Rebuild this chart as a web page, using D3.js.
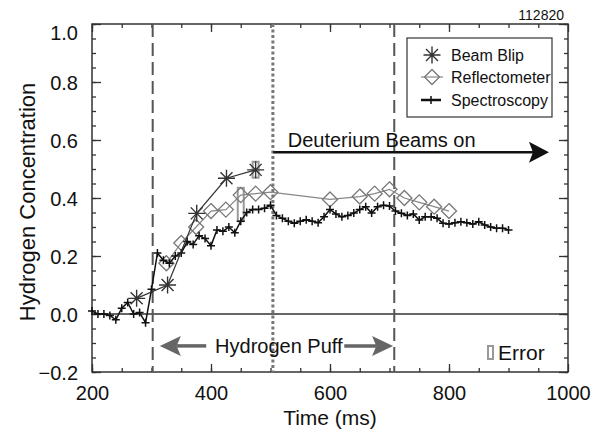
<!DOCTYPE html>
<html>
<head>
<meta charset="utf-8">
<script src="https://cdn.jsdelivr.net/npm/d3@7"></script>
<style>
  body { margin: 0; background: #fff; }
  text { font-family: "Liberation Sans", Arial, Helvetica, sans-serif; fill: #111; }
</style>
</head>
<body>
<div id="graph"></div>
<script>
// --- data ---
var specT = [200, 210, 220, 230, 240, 250, 260, 270, 280, 290,
             300, 310, 320, 330, 340, 350, 360, 370, 380, 390,
             400, 410, 420, 430, 440, 450, 460, 470, 480, 490,
             500, 510, 520, 530, 540, 550, 560, 570, 580, 590,
             600, 610, 620, 630, 640, 650, 660, 670, 680, 690,
             700, 710, 720, 730, 740, 750, 760, 770, 780, 790,
             800, 810, 820, 830, 840, 850, 860, 870, 880, 890, 900];
var specV = [0.01, 0.0, 0.0, -0.005, -0.02, 0.02, 0.04, 0.0, 0.005, -0.03,
             0.085, 0.21, 0.185, 0.175, 0.20, 0.21, 0.25, 0.24, 0.27, 0.26,
             0.235, 0.29, 0.285, 0.30, 0.28, 0.32, 0.35, 0.36, 0.36, 0.365,
             0.375, 0.34, 0.33, 0.32, 0.313, 0.32, 0.325, 0.32, 0.315, 0.335,
             0.36, 0.345, 0.335, 0.34, 0.348, 0.36, 0.37, 0.348, 0.37, 0.375,
             0.372, 0.355, 0.347, 0.34, 0.345, 0.324, 0.335, 0.335, 0.33, 0.313,
             0.31, 0.315, 0.318, 0.315, 0.31, 0.318, 0.307, 0.30, 0.296, 0.296, 0.29];

var blipT = [275, 327, 376, 426, 475];
var blipV = [0.054, 0.10, 0.347, 0.468, 0.497];

var reflT = [325, 350, 375, 400, 425, 450, 475, 500, 600, 650, 675, 700, 725, 750, 775, 800];
var reflV = [0.175, 0.245, 0.30, 0.355, 0.36, 0.41, 0.415, 0.42, 0.395, 0.405, 0.415, 0.43, 0.40, 0.385, 0.37, 0.355];

// gray error boxes (reflectometer at 450, beam blip at 475)
var errT = [450, 475];
var errLo = [0.32, 0.47];
var errHi = [0.435, 0.525];

var xMajor = [200, 400, 600, 800, 1000];
var yMajor = [-0.2, 0.0, 0.2, 0.4, 0.6, 0.8, 1.0];

var puffStart = 302, puffEnd = 708, beamsOn = 504;

var legendNames = ["Beam Blip", "Reflectometer", "Spectroscopy"];

// --- drawing ---
var w = 605, h = 435;
var vis = d3.select('#graph').append('svg')
    .attr('width', w)
    .attr('height', h);

vis.append('rect').attr('width', w).attr('height', h).attr('fill', '#fff');

var x = d3.scaleLinear().domain([200, 1000]).range([92, 568]);
var y = d3.scaleLinear().domain([-0.2, 1.0]).range([372, 24]);

var xMinor = d3.range(200, 1000, 50);
var yMinor = d3.range(-0.2, 1.0001, 0.05);

function styleAxis(g) {
  g.select('.domain').remove();
  g.selectAll('line').attr('stroke', '#333').attr('stroke-width', 1.3);
}

// minor ticks on all four sides
vis.append('g').attr('transform', 'translate(0,372)')
    .call(d3.axisBottom(x).tickValues(xMinor).tickSize(-4).tickFormat('')).call(styleAxis);
vis.append('g').attr('transform', 'translate(0,24)')
    .call(d3.axisTop(x).tickValues(xMinor).tickSize(-4).tickFormat('')).call(styleAxis);
vis.append('g').attr('transform', 'translate(92,0)')
    .call(d3.axisLeft(y).tickValues(yMinor).tickSize(-4).tickFormat('')).call(styleAxis);
vis.append('g').attr('transform', 'translate(568,0)')
    .call(d3.axisRight(y).tickValues(yMinor).tickSize(-4).tickFormat('')).call(styleAxis);

// major ticks
var xAx = vis.append('g').attr('transform', 'translate(0,372)')
    .call(d3.axisBottom(x).tickValues(xMajor).tickSize(-8).tickPadding(14).tickFormat(d3.format('d')))
    .call(styleAxis);
vis.append('g').attr('transform', 'translate(0,24)')
    .call(d3.axisTop(x).tickValues(xMajor).tickSize(-8).tickFormat('')).call(styleAxis);
var yAx = vis.append('g').attr('transform', 'translate(92,0)')
    .call(d3.axisLeft(y).tickValues(yMajor).tickSize(-9).tickPadding(14).tickFormat(d3.format('.1f')))
    .call(styleAxis);
vis.append('g').attr('transform', 'translate(568,0)')
    .call(d3.axisRight(y).tickValues(yMajor).tickSize(-9).tickFormat('')).call(styleAxis);

xAx.selectAll('text').attr('font-size', '20px').attr('fill', '#111')
    .attr('font-family', '"Liberation Sans", Arial, sans-serif');
yAx.selectAll('text').attr('font-size', '20px').attr('fill', '#111')
    .attr('font-family', '"Liberation Sans", Arial, sans-serif')
    .attr('dy', function(d) { return d === 1.0 ? '0.75em' : '0.35em'; });

// frame
vis.append('rect')
    .attr('x', 92).attr('y', 24).attr('width', 476).attr('height', 348)
    .attr('fill', 'none').attr('stroke', '#333').attr('stroke-width', 1.5);

// zero line
vis.append('line')
    .attr('x1', x(200)).attr('x2', x(1000))
    .attr('y1', y(0)).attr('y2', y(0))
    .attr('stroke', '#333').attr('stroke-width', 1.5);

// puff boundaries (dashed) and beams-on (dotted)
vis.selectAll('.vdash')
    .data([puffStart, puffEnd])
    .enter()
    .append('line')
    .attr('x1', function(d) { return x(d); })
    .attr('x2', function(d) { return x(d); })
    .attr('y1', y(1.0)).attr('y2', y(-0.2))
    .attr('stroke', '#555').attr('stroke-width', 2)
    .attr('stroke-dasharray', '13,6');

vis.append('line')
    .attr('x1', x(beamsOn)).attr('x2', x(beamsOn))
    .attr('y1', y(1.0)).attr('y2', y(-0.2))
    .attr('stroke', '#777').attr('stroke-width', 3)
    .attr('stroke-dasharray', '3,2.5');

// error boxes
vis.selectAll('.err')
    .data(errT)
    .enter()
    .append('rect')
    .attr('x', function(d) { return x(d) - 3; })
    .attr('y', function(d, i) { return y(errHi[i]); })
    .attr('width', 6)
    .attr('height', function(d, i) { return y(errLo[i]) - y(errHi[i]); })
    .attr('fill', 'none').attr('stroke', '#999').attr('stroke-width', 2);

var lineGen = d3.line()
    .x(function(d) { return x(d[0]); })
    .y(function(d) { return y(d[1]); });

var spec = specT.map(function(t, i) { return [t, specV[i]]; });
var blip = blipT.map(function(t, i) { return [t, blipV[i]]; });
var refl = reflT.map(function(t, i) { return [t, reflV[i]]; });

var plusPath = 'M-4,0H4M0,-4V4';
var diamondPath = 'M0,-7.5L7.5,0L0,7.5L-7.5,0Z';
var astPath = 'M-8.5,0H8.5M0,-8.5V8.5M-6,-6L6,6M-6,6L6,-6';

// reflectometer
vis.append('path').datum(refl).attr('d', lineGen)
    .attr('fill', 'none').attr('stroke', '#888').attr('stroke-width', 1.2);
vis.selectAll('.refl')
    .data(refl)
    .enter()
    .append('path')
    .attr('transform', function(d) { return 'translate(' + x(d[0]) + ',' + y(d[1]) + ')'; })
    .attr('d', diamondPath)
    .attr('fill', 'none').attr('stroke', '#777').attr('stroke-width', 1.3);

// spectroscopy
vis.append('path').datum(spec).attr('d', lineGen)
    .attr('fill', 'none').attr('stroke', '#111').attr('stroke-width', 1.5);
vis.selectAll('.spec')
    .data(spec)
    .enter()
    .append('path')
    .attr('transform', function(d) { return 'translate(' + x(d[0]) + ',' + y(d[1]) + ')'; })
    .attr('d', plusPath)
    .attr('stroke', '#111').attr('stroke-width', 1.5);

// beam blip
vis.append('path').datum(blip).attr('d', lineGen)
    .attr('fill', 'none').attr('stroke', '#333').attr('stroke-width', 1.2);
vis.selectAll('.blip')
    .data(blip)
    .enter()
    .append('path')
    .attr('transform', function(d) { return 'translate(' + x(d[0]) + ',' + y(d[1]) + ')'; })
    .attr('d', astPath)
    .attr('stroke', '#333').attr('stroke-width', 1.4);

// arrows
function arrow(x1, x2, yy, color, lw, hl, hw) {
  var dir = x2 > x1 ? 1 : -1;
  vis.append('line')
      .attr('x1', x1).attr('x2', x2 - dir * hl * 0.8)
      .attr('y1', yy).attr('y2', yy)
      .attr('stroke', color).attr('stroke-width', lw);
  vis.append('path')
      .attr('d', 'M' + x2 + ',' + yy + 'L' + (x2 - dir * hl) + ',' + (yy - hw) +
                 'L' + (x2 - dir * hl * 0.8) + ',' + yy +
                 'L' + (x2 - dir * hl) + ',' + (yy + hw) + 'Z')
      .attr('fill', color);
}

arrow(x(505), x(968), y(0.558), '#111', 2.5, 20, 10.5);
arrow(x(392), x(314), y(-0.11), '#666', 3.5, 21, 10);
arrow(x(624), x(706), y(-0.11), '#666', 3.5, 21, 10);

vis.append('text')
    .attr('x', x(529)).attr('y', 147)
    .attr('font-size', '20px')
    .text('Deuterium Beams on');

vis.append('text')
    .attr('x', x(514)).attr('y', y(-0.11) + 7)
    .attr('text-anchor', 'middle')
    .attr('font-size', '20px')
    .text('Hydrogen Puff');

// error key
vis.append('rect')
    .attr('x', 488).attr('y', 346).attr('width', 5).attr('height', 13)
    .attr('fill', '#fff').attr('stroke', '#999').attr('stroke-width', 2);
vis.append('text')
    .attr('x', 498).attr('y', 360)
    .attr('font-size', '21px')
    .text('Error');

// shot number
vis.append('text')
    .attr('x', 564).attr('y', 20)
    .attr('text-anchor', 'end')
    .attr('font-size', '14px')
    .text('112820');

// legend
vis.append('rect')
    .attr('x', 407).attr('y', 38).attr('width', 145).attr('height', 79)
    .attr('fill', '#fff').attr('stroke', '#333').attr('stroke-width', 1.2);

var legY = [55, 77, 100];
vis.append('path')
    .attr('transform', 'translate(432,' + legY[0] + ')')
    .attr('d', astPath).attr('stroke', '#333').attr('stroke-width', 1.4);
vis.append('line')
    .attr('x1', 421).attr('x2', 443).attr('y1', legY[1]).attr('y2', legY[1])
    .attr('stroke', '#888').attr('stroke-width', 1.2);
vis.append('path')
    .attr('transform', 'translate(432,' + legY[1] + ')')
    .attr('d', diamondPath).attr('fill', 'none').attr('stroke', '#777').attr('stroke-width', 1.3);
vis.append('line')
    .attr('x1', 421).attr('x2', 441).attr('y1', legY[2]).attr('y2', legY[2])
    .attr('stroke', '#111').attr('stroke-width', 2.5);
vis.append('path')
    .attr('transform', 'translate(431,' + legY[2] + ')')
    .attr('d', plusPath).attr('stroke', '#111').attr('stroke-width', 1.5);

vis.selectAll('.legtext')
    .data(legendNames)
    .enter()
    .append('text')
    .attr('x', 451)
    .attr('y', function(d, i) { return legY[i] + 6; })
    .attr('font-size', '16px')
    .text(function(d) { return d; });

// axis titles
vis.append('text')
    .attr('x', 330).attr('y', 425)
    .attr('text-anchor', 'middle')
    .attr('font-size', '21px')
    .text('Time (ms)');

vis.append('text')
    .attr('transform', 'translate(35,202) rotate(-90)')
    .attr('text-anchor', 'middle')
    .attr('font-size', '22px')
    .text('Hydrogen Concentration');
</script>
</body>
</html>
